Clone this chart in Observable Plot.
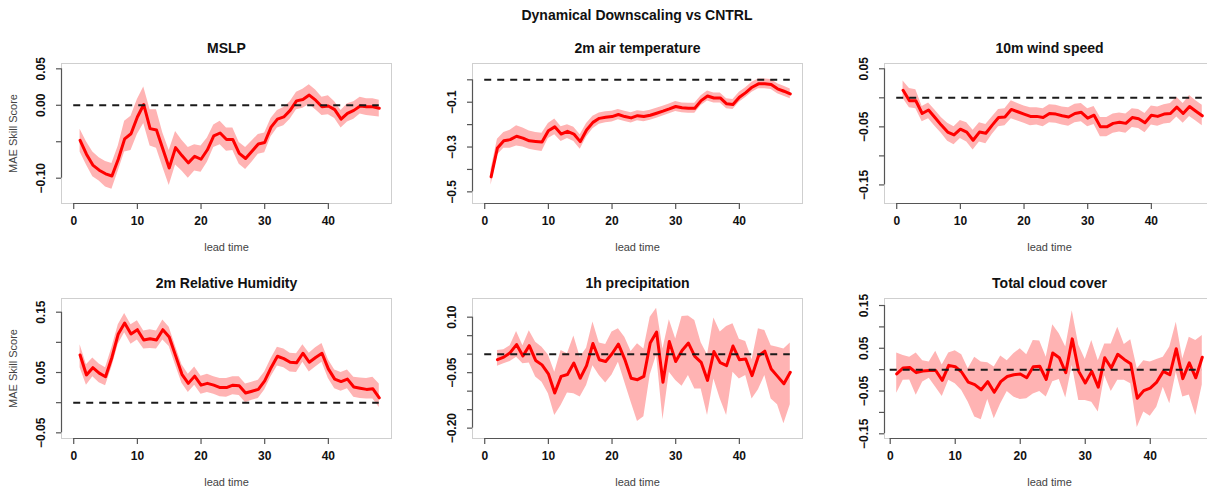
<!DOCTYPE html>
<html>
<head>
<meta charset="utf-8">
<script src="https://cdn.jsdelivr.net/npm/d3@7"></script>
<script src="https://cdn.jsdelivr.net/npm/@observablehq/plot@0.6"></script>
<style>
  html, body { margin: 0; padding: 0; background: #fff; }
  #wrap { position: relative; width: 1207px; height: 494px; overflow: hidden; background: #fff; font-family: "Liberation Sans", Arial, sans-serif; }
  #main { position: absolute; left: 637px; top: 7px; transform: translateX(-50%); white-space: nowrap; font-size: 14px; font-weight: bold; color: #111; line-height: 16px; }
  .panel { position: absolute; }
</style>
</head>
<body>
<div id="wrap"><div id="main">Dynamical Downscaling vs CNTRL</div></div>
<script>
// ---------- data ----------
const leadTime = [1,2,3,4,5,6,7,8,9,10,11,12,13,14,15,16,17,18,19,20,21,22,23,24,25,26,27,28,29,30,31,32,33,34,35,36,37,38,39,40,41,42,43,44,45,46,47,48];
const xTicks = [0, 10, 20, 30, 40];
const xLabel = "lead time";
const yLabel = "MAE Skill Score";
const mainTitle = "Dynamical Downscaling vs CNTRL";

// MSLP
const mslpMean = [-0.048,-0.067,-0.082,-0.089,-0.094,-0.097,-0.074,-0.046,-0.039,-0.016,0.001,-0.032,-0.034,-0.060,-0.086,-0.058,-0.069,-0.079,-0.070,-0.074,-0.061,-0.042,-0.038,-0.047,-0.047,-0.066,-0.073,-0.063,-0.053,-0.051,-0.030,-0.019,-0.016,-0.007,0.006,0.008,0.014,0.007,-0.002,-0.001,-0.006,-0.019,-0.011,-0.007,-0.001,-0.002,-0.002,-0.004];
const mslpHi = [-0.033,-0.050,-0.064,-0.072,-0.077,-0.080,-0.056,-0.022,-0.015,0.008,0.025,-0.006,-0.006,-0.038,-0.062,-0.036,-0.048,-0.058,-0.054,-0.056,-0.045,-0.027,-0.022,-0.031,-0.031,-0.051,-0.058,-0.049,-0.040,-0.038,-0.018,-0.007,-0.003,0.005,0.018,0.022,0.028,0.021,0.011,0.013,0.005,-0.007,0.002,0.005,0.011,0.009,0.009,0.007];
const mslpLo = [-0.064,-0.082,-0.098,-0.104,-0.112,-0.115,-0.090,-0.064,-0.062,-0.040,-0.025,-0.056,-0.059,-0.085,-0.110,-0.082,-0.090,-0.100,-0.090,-0.092,-0.078,-0.058,-0.054,-0.063,-0.062,-0.081,-0.088,-0.078,-0.067,-0.065,-0.043,-0.031,-0.028,-0.019,-0.006,-0.004,0.001,-0.006,-0.014,-0.013,-0.018,-0.031,-0.023,-0.019,-0.012,-0.014,-0.015,-0.016];
const mslpTicks = [-0.10, -0.05, 0.00, 0.05];
const mslpTickLabels = [-0.10, 0.00, 0.05];

// 2m air temperature
const t2mMean = [-0.433,-0.304,-0.272,-0.267,-0.252,-0.260,-0.272,-0.275,-0.278,-0.227,-0.210,-0.242,-0.230,-0.242,-0.276,-0.224,-0.190,-0.172,-0.167,-0.164,-0.155,-0.164,-0.170,-0.160,-0.164,-0.158,-0.149,-0.140,-0.130,-0.119,-0.125,-0.127,-0.127,-0.093,-0.072,-0.081,-0.081,-0.107,-0.110,-0.078,-0.057,-0.033,-0.018,-0.018,-0.021,-0.040,-0.051,-0.063];
const t2mHi = [-0.400,-0.265,-0.235,-0.225,-0.205,-0.215,-0.228,-0.235,-0.238,-0.195,-0.175,-0.210,-0.200,-0.212,-0.245,-0.195,-0.163,-0.148,-0.143,-0.140,-0.133,-0.140,-0.147,-0.138,-0.141,-0.136,-0.127,-0.118,-0.108,-0.097,-0.103,-0.105,-0.105,-0.071,-0.050,-0.059,-0.059,-0.085,-0.088,-0.056,-0.035,-0.011,0.004,0.004,0.001,-0.018,-0.029,-0.041];
const t2mLo = [-0.470,-0.335,-0.305,-0.305,-0.295,-0.300,-0.310,-0.315,-0.320,-0.262,-0.245,-0.275,-0.262,-0.275,-0.310,-0.255,-0.218,-0.198,-0.192,-0.188,-0.178,-0.186,-0.193,-0.183,-0.187,-0.181,-0.171,-0.162,-0.152,-0.141,-0.147,-0.149,-0.149,-0.115,-0.094,-0.103,-0.103,-0.129,-0.132,-0.100,-0.079,-0.055,-0.040,-0.040,-0.043,-0.062,-0.073,-0.085];
const t2mTicks = [-0.5, -0.4, -0.3, -0.2, -0.1, 0.0];
const t2mTickLabels = [-0.5, -0.3, -0.1];

// 10m wind speed
const windMean = [0.013,-0.005,-0.005,-0.027,-0.021,-0.034,-0.047,-0.059,-0.064,-0.054,-0.059,-0.073,-0.059,-0.061,-0.047,-0.034,-0.033,-0.020,-0.024,-0.028,-0.032,-0.032,-0.034,-0.027,-0.028,-0.031,-0.033,-0.027,-0.025,-0.035,-0.030,-0.050,-0.050,-0.044,-0.042,-0.044,-0.034,-0.036,-0.043,-0.030,-0.032,-0.028,-0.027,-0.016,-0.027,-0.015,-0.023,-0.031];
const windHi = [0.029,0.016,0.014,-0.015,-0.009,-0.021,-0.034,-0.044,-0.050,-0.039,-0.043,-0.056,-0.043,-0.046,-0.033,-0.020,-0.019,-0.005,-0.010,-0.014,-0.017,-0.017,-0.019,-0.012,-0.013,-0.016,-0.017,-0.011,-0.010,-0.019,-0.015,-0.034,-0.034,-0.028,-0.026,-0.028,-0.019,-0.020,-0.027,-0.014,-0.016,-0.012,-0.010,0.001,-0.010,0.004,-0.005,-0.013];
const windLo = [-0.001,-0.017,-0.019,-0.041,-0.036,-0.049,-0.061,-0.075,-0.081,-0.070,-0.076,-0.090,-0.076,-0.079,-0.063,-0.050,-0.048,-0.036,-0.040,-0.044,-0.048,-0.047,-0.050,-0.043,-0.044,-0.047,-0.049,-0.043,-0.041,-0.050,-0.046,-0.067,-0.067,-0.061,-0.059,-0.061,-0.051,-0.053,-0.060,-0.047,-0.049,-0.045,-0.044,-0.033,-0.044,-0.032,-0.040,-0.048];
const windTicks = [-0.15, -0.10, -0.05, 0.00, 0.05];
const windTickLabels = [-0.15, -0.05, 0.05];

// 2m Relative Humidity
const rhMean = [0.079,0.046,0.058,0.049,0.043,0.075,0.114,0.132,0.114,0.121,0.104,0.106,0.104,0.121,0.109,0.078,0.047,0.032,0.044,0.029,0.032,0.029,0.025,0.025,0.029,0.028,0.016,0.019,0.022,0.036,0.058,0.077,0.073,0.067,0.066,0.082,0.067,0.075,0.082,0.056,0.039,0.035,0.039,0.026,0.024,0.022,0.023,0.008];
const rhHi = [0.096,0.063,0.074,0.064,0.058,0.091,0.129,0.148,0.129,0.136,0.119,0.121,0.119,0.137,0.125,0.093,0.063,0.047,0.059,0.044,0.047,0.043,0.040,0.040,0.043,0.043,0.031,0.034,0.037,0.051,0.073,0.092,0.089,0.082,0.081,0.096,0.082,0.091,0.098,0.071,0.054,0.050,0.054,0.042,0.041,0.040,0.042,0.031];
const rhLo = [0.058,0.029,0.043,0.033,0.028,0.059,0.097,0.116,0.097,0.104,0.089,0.090,0.089,0.104,0.093,0.062,0.032,0.017,0.029,0.014,0.017,0.014,0.010,0.009,0.013,0.012,0.000,0.004,0.007,0.021,0.043,0.061,0.058,0.051,0.050,0.067,0.051,0.059,0.067,0.040,0.023,0.019,0.023,0.009,0.007,0.006,0.006,-0.008];
const rhTicks = [-0.05, 0.00, 0.05, 0.10, 0.15];
const rhTickLabels = [-0.05, 0.05, 0.15];

// 1h precipitation (no value at lead time 1)
const precipMean = [null,-0.015,-0.008,0.004,0.026,-0.005,0.023,-0.017,-0.029,-0.053,-0.105,-0.060,-0.055,-0.024,-0.065,-0.031,0.029,-0.015,-0.020,0.001,0.027,-0.014,-0.065,-0.069,-0.060,0.030,0.060,-0.076,0.034,-0.020,0.010,0.030,-0.006,-0.022,-0.071,0.007,-0.023,-0.031,0.022,-0.015,-0.013,-0.058,-0.005,0.008,-0.040,-0.060,-0.080,-0.049];
const precipHi = [null,0.010,0.012,0.023,0.061,0.023,0.063,0.032,0.019,-0.002,-0.049,0.010,0.001,0.049,-0.008,0.016,0.087,0.030,0.026,0.060,0.069,0.046,0.007,0.028,0.014,0.100,0.124,0.014,0.093,0.041,0.102,0.103,0.091,0.031,-0.002,0.098,0.060,0.075,0.082,0.040,0.034,-0.015,0.069,0.064,0.023,0.019,0.014,0.030];
const precipLo = [null,-0.033,-0.026,-0.020,-0.008,-0.026,-0.024,-0.062,-0.076,-0.107,-0.166,-0.139,-0.105,-0.107,-0.116,-0.085,-0.031,-0.058,-0.078,-0.056,-0.022,-0.076,-0.130,-0.182,-0.169,-0.056,-0.002,-0.177,-0.049,-0.071,-0.087,-0.058,-0.094,-0.094,-0.166,-0.067,-0.121,-0.166,-0.049,-0.067,-0.058,-0.121,-0.096,-0.058,-0.121,-0.137,-0.188,-0.137];
const precipTicks = [-0.20, -0.15, -0.10, -0.05, 0.00, 0.05, 0.10];
const precipTickLabels = [-0.20, -0.05, 0.10];

// Total cloud cover
const cloudMean = [-0.010,0.004,0.005,-0.007,-0.003,-0.002,-0.002,-0.025,0.010,0.007,-0.006,-0.029,-0.035,-0.047,-0.028,-0.053,-0.028,-0.016,-0.012,-0.010,-0.019,0.007,0.008,-0.023,0.039,0.028,-0.007,0.072,-0.004,-0.031,-0.004,-0.041,0.028,0.004,0.036,0.024,0.014,-0.067,-0.049,-0.043,-0.029,-0.004,-0.012,0.049,-0.021,0.016,-0.019,0.029];
const cloudHi = [0.039,0.033,0.029,0.039,0.021,0.018,0.043,0.011,0.039,0.044,0.035,0.002,0.029,0.018,0.016,0.006,0.032,0.021,0.037,0.049,0.035,0.068,0.067,0.029,0.105,0.084,0.053,0.138,0.057,0.024,0.068,0.021,0.060,0.060,0.099,0.059,0.070,0.002,0.021,0.018,0.024,0.029,0.053,0.111,0.025,0.076,0.068,0.080];
const cloudLo = [-0.055,-0.025,-0.024,-0.060,-0.029,-0.020,-0.041,-0.063,-0.025,-0.033,-0.049,-0.076,-0.111,-0.117,-0.070,-0.115,-0.080,-0.051,-0.064,-0.070,-0.068,-0.057,-0.051,-0.064,-0.028,-0.023,-0.066,0.010,-0.072,-0.072,-0.076,-0.099,-0.014,-0.051,-0.025,-0.025,-0.033,-0.135,-0.099,-0.109,-0.088,-0.041,-0.080,-0.006,-0.064,-0.059,-0.107,-0.036];
const cloudTicks = [-0.15, -0.10, -0.05, 0.00, 0.05, 0.10, 0.15];
const cloudTickLabels = [-0.15, -0.05, 0.05, 0.15];

// reference (zero) line, drawn from lead time 0 to 48
const refValue = 0;
const refFrom = 0;
const refTo = 48;

// ---------- layout ----------
const FRAME_W = 330, FRAME_H = 140;
const ML = 61, MT = 40, MR = 10, MB = 60;

const panels = [
  {title: "MSLP", mean: mslpMean, hi: mslpHi, lo: mslpLo, yTicks: mslpTicks, yTickLabels: mslpTickLabels, dec: 2,
   yDomain: [-0.1347, 0.0573], xDomain: [-1.92, 49.92], ylab: true, left: 61, top: 63},
  {title: "2m air temperature", mean: t2mMean, hi: t2mHi, lo: t2mLo, yTicks: t2mTicks, yTickLabels: t2mTickLabels, dec: 1,
   yDomain: [-0.552, 0.0728], xDomain: [-1.92, 49.92], ylab: false, left: 472, top: 63},
  {title: "10m wind speed", mean: windMean, hi: windHi, lo: windLo, yTicks: windTicks, yTickLabels: windTickLabels, dec: 2,
   yDomain: [-0.182, 0.0591], xDomain: [-1.92, 49.92], ylab: false, left: 884, top: 63},
  {title: "2m Relative Humidity", mean: rhMean, hi: rhHi, lo: rhLo, yTicks: rhTicks, yTickLabels: rhTickLabels, dec: 2,
   yDomain: [-0.0594, 0.1727], xDomain: [-1.92, 49.92], ylab: true, left: 61, top: 298},
  {title: "1h precipitation", mean: precipMean, hi: precipHi, lo: precipLo, yTicks: precipTicks, yTickLabels: precipTickLabels, dec: 2,
   yDomain: [-0.228, 0.1505], xDomain: [-1.92, 49.92], ylab: false, left: 472, top: 298},
  {title: "Total cloud cover", mean: cloudMean, hi: cloudHi, lo: cloudLo, yTicks: cloudTicks, yTickLabels: cloudTickLabels, dec: 2,
   yDomain: [-0.161, 0.1664], xDomain: [-0.88, 49.88], ylab: false, left: 884, top: 298}
];

const fmt = (v, dec) => (v < 0 ? "\u2212" : "") + Math.abs(v).toFixed(dec);
const FONT = "Liberation Sans, Arial, Helvetica, sans-serif";
const AXIS_COL = "#555";

const wrap = document.getElementById("wrap");

for (const p of panels) {
  const rows = leadTime.map((t, i) => ({t, v: p.mean[i], lo: p.lo[i], hi: p.hi[i]}));
  const marks = [
    Plot.frame({stroke: "#cfcfcf", strokeWidth: 1}),
    Plot.areaY(rows, {x: "t", y1: "lo", y2: "hi", fill: "#ffb3b3", fillOpacity: 1, curve: "linear"}),
    Plot.line(rows, {x: "t", y: "v", stroke: "#ff0000", strokeWidth: 3, strokeLinejoin: "round"}),
    Plot.ruleY([refValue], {x1: refFrom, x2: refTo, stroke: "#1a1a1a", strokeWidth: 2, strokeDasharray: "7,6"}),
    // x axis line + ticks
    Plot.ruleY([p.yDomain[0]], {x1: xTicks[0], x2: xTicks[xTicks.length - 1], stroke: AXIS_COL, strokeWidth: 1.2}),
    Plot.axisX(xTicks, {tickSize: 6, tickFormat: () => "", stroke: AXIS_COL, strokeWidth: 1.2, label: null}),
    Plot.text(xTicks, {x: d => d, text: d => String(d), frameAnchor: "bottom", dy: 21, fontSize: 12, fontWeight: "bold", fill: "#111"}),
    // y axis line + ticks
    Plot.ruleX([p.xDomain[0]], {y1: p.yTicks[0], y2: p.yTicks[p.yTicks.length - 1], stroke: AXIS_COL, strokeWidth: 1.2}),
    Plot.axisY(p.yTicks, {tickSize: 5, tickFormat: () => "", stroke: AXIS_COL, strokeWidth: 1.2, label: null}),
    Plot.text(p.yTickLabels, {y: d => d, text: d => fmt(d, p.dec), frameAnchor: "left", dx: -20, rotate: -90, textAnchor: "middle", fontSize: 12, fontWeight: "bold", fill: "#111"}),
    // titles
    Plot.text([p.title], {frameAnchor: "top", dy: -20, text: d => d, fontSize: 14, fontWeight: "bold", fill: "#111"}),
    Plot.text([xLabel], {frameAnchor: "bottom", dy: 47, text: d => d, fontSize: 11, fill: "#444"})
  ];
  if (p.ylab) {
    marks.push(Plot.text([yLabel], {frameAnchor: "left", dx: -48, rotate: -90, textAnchor: "middle", text: d => d, fontSize: 11, fill: "#444"}));
  }
  const svg = Plot.plot({
    width: ML + FRAME_W + MR,
    height: MT + FRAME_H + MB,
    marginLeft: ML, marginRight: MR, marginTop: MT, marginBottom: MB,
    x: {domain: p.xDomain, axis: null},
    y: {domain: p.yDomain, axis: null},
    style: {fontFamily: FONT, background: "transparent", overflow: "visible"},
    marks
  });
  svg.classList.add("panel");
  svg.style.left = (p.left - ML) + "px";
  svg.style.top = (p.top - MT) + "px";
  svg.style.position = "absolute";
  wrap.appendChild(svg);
}
</script>
</body>
</html>
